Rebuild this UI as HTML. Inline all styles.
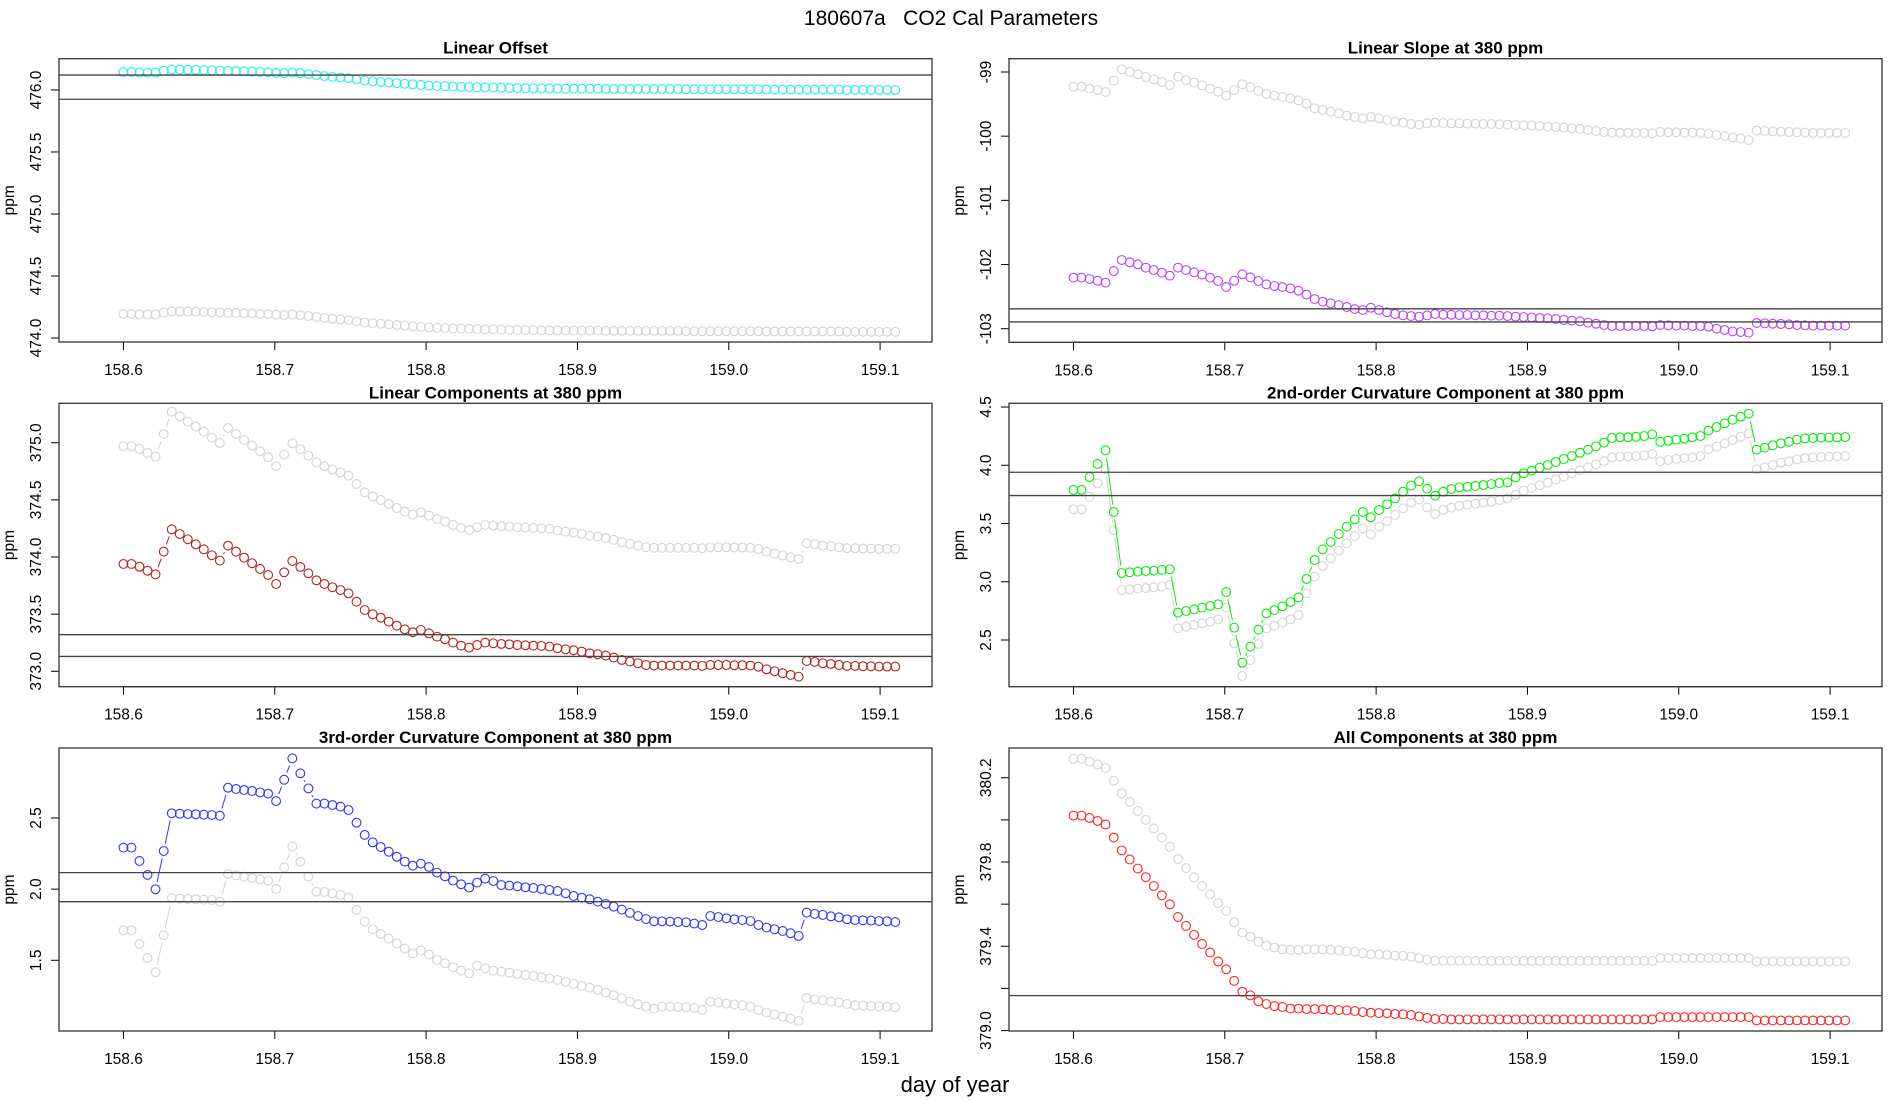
<!DOCTYPE html>
<html><head><meta charset="utf-8"><title>180607a CO2 Cal Parameters</title>
<style>
html,body{margin:0;padding:0;background:#fff;}
svg{display:block;font-family:"Liberation Sans",Arial,sans-serif;}
</style></head>
<body>
<svg id="chart" width="1900" height="1100" viewBox="0 0 1900 1100" xmlns="http://www.w3.org/2000/svg">
<rect x="0" y="0" width="1900" height="1100" fill="#fff"/>
<text x="951" y="25" font-size="21" text-anchor="middle" fill="#000" style="white-space:pre" xml:space="preserve">180607a   CO2 Cal Parameters</text>
<text x="955" y="1092" font-size="22" text-anchor="middle" fill="#000">day of year</text>
</svg>
<script>
const days=[158.6000,158.6053,158.6106,158.6159,158.6212,158.6266,158.6319,158.6372,158.6425,158.6478,158.6531,158.6584,158.6637,158.6691,158.6744,158.6797,158.6850,158.6903,158.6956,158.7009,158.7062,158.7116,158.7169,158.7222,158.7275,158.7328,158.7381,158.7434,158.7487,158.7540,158.7594,158.7647,158.7700,158.7753,158.7806,158.7859,158.7912,158.7965,158.8019,158.8072,158.8125,158.8178,158.8231,158.8284,158.8337,158.8390,158.8444,158.8497,158.8550,158.8603,158.8656,158.8709,158.8762,158.8815,158.8868,158.8922,158.8975,158.9028,158.9081,158.9134,158.9187,158.9240,158.9293,158.9347,158.9400,158.9453,158.9506,158.9559,158.9612,158.9665,158.9718,158.9772,158.9825,158.9878,158.9931,158.9984,159.0037,159.0090,159.0143,159.0196,159.0250,159.0303,159.0356,159.0409,159.0462,159.0515,159.0568,159.0621,159.0675,159.0728,159.0781,159.0834,159.0887,159.0940,159.0993,159.1046,159.1100];
const xTicks=[158.6,158.7,158.8,158.9,159.0,159.1];

const offsetMain=[476.145,476.145,476.14,476.14,476.14,476.155,476.165,476.165,476.163,476.162,476.16,476.158,476.156,476.154,476.152,476.15,476.148,476.145,476.142,476.138,476.135,476.14,476.135,476.128,476.12,476.112,476.105,476.1,476.095,476.085,476.075,476.07,476.065,476.06,476.055,476.05,476.045,476.04,476.035,476.032,476.03,476.028,476.026,476.024,476.022,476.02,476.02,476.018,476.016,476.015,476.014,476.013,476.012,476.012,476.011,476.01,476.01,476.01,476.01,476.01,476.008,476.008,476.008,476.008,476.008,476.008,476.008,476.008,476.008,476.008,476.005,476.005,476.005,476.005,476.005,476.005,476.005,476.005,476.005,476.005,476.003,476.003,476.003,476.003,476.003,476.003,476.003,476.003,476.003,476.003,476.0,476.0,476.0,476.0,476.0,476.0,476.0];
const offsetRef=[474.195,474.195,474.19,474.19,474.19,474.205,474.215,474.215,474.213,474.212,474.21,474.208,474.206,474.204,474.202,474.2,474.198,474.195,474.192,474.188,474.185,474.19,474.185,474.178,474.17,474.162,474.155,474.15,474.145,474.135,474.125,474.12,474.115,474.11,474.105,474.1,474.095,474.09,474.085,474.082,474.08,474.078,474.076,474.074,474.072,474.07,474.07,474.068,474.066,474.065,474.064,474.063,474.062,474.062,474.061,474.06,474.06,474.06,474.06,474.06,474.058,474.058,474.058,474.058,474.058,474.058,474.058,474.058,474.058,474.058,474.055,474.055,474.055,474.055,474.055,474.055,474.055,474.055,474.055,474.055,474.053,474.053,474.053,474.053,474.053,474.053,474.053,474.053,474.053,474.053,474.05,474.05,474.05,474.05,474.05,474.05,474.05];
const offsetLines=[476.12,475.925];
const offsetTicks=[474.0,474.5,475.0,475.5,476.0];

const slopeMain=[-102.205,-102.205,-102.226,-102.252,-102.283,-102.101,-101.930,-101.966,-101.997,-102.049,-102.086,-102.127,-102.174,-102.049,-102.086,-102.122,-102.158,-102.205,-102.257,-102.351,-102.252,-102.153,-102.2,-102.257,-102.309,-102.335,-102.351,-102.371,-102.408,-102.47,-102.538,-102.579,-102.605,-102.631,-102.662,-102.694,-102.709,-102.673,-102.709,-102.745,-102.771,-102.792,-102.803,-102.813,-102.792,-102.771,-102.782,-102.782,-102.787,-102.787,-102.792,-102.792,-102.797,-102.797,-102.803,-102.813,-102.818,-102.824,-102.834,-102.839,-102.849,-102.865,-102.875,-102.886,-102.906,-102.922,-102.943,-102.958,-102.958,-102.958,-102.958,-102.958,-102.963,-102.943,-102.948,-102.953,-102.953,-102.958,-102.958,-102.969,-103.0,-103.021,-103.042,-103.052,-103.062,-102.912,-102.917,-102.922,-102.927,-102.932,-102.943,-102.948,-102.953,-102.953,-102.953,-102.953,-102.953];
const slopeRef=[-99.229,-99.229,-99.26,-99.281,-99.312,-99.135,-98.958,-99.0,-99.036,-99.078,-99.114,-99.156,-99.203,-99.073,-99.125,-99.166,-99.208,-99.26,-99.306,-99.369,-99.281,-99.192,-99.234,-99.296,-99.343,-99.369,-99.39,-99.41,-99.442,-99.494,-99.566,-99.592,-99.618,-99.644,-99.681,-99.701,-99.722,-99.701,-99.722,-99.748,-99.774,-99.79,-99.81,-99.821,-99.8,-99.79,-99.795,-99.8,-99.8,-99.805,-99.805,-99.81,-99.81,-99.815,-99.821,-99.826,-99.831,-99.836,-99.842,-99.852,-99.857,-99.867,-99.878,-99.888,-99.904,-99.92,-99.935,-99.945,-99.95,-99.95,-99.95,-99.95,-99.955,-99.935,-99.94,-99.94,-99.945,-99.945,-99.95,-99.961,-99.982,-99.997,-100.018,-100.034,-100.06,-99.914,-99.92,-99.925,-99.93,-99.935,-99.94,-99.945,-99.95,-99.95,-99.95,-99.95,-99.95];
const slopeLines=[-102.69,-102.895];
const slopeTicks=[-103,-102,-101,-100,-99];

const linMain=[373.939,373.939,373.915,373.880,373.848,374.047,374.242,374.201,374.155,374.111,374.067,374.015,373.968,374.099,374.047,373.994,373.945,373.895,373.843,373.764,373.866,373.965,373.913,373.857,373.796,373.764,373.735,373.711,373.682,373.609,373.536,373.499,373.469,373.434,373.399,373.367,373.341,373.362,373.332,373.303,373.280,373.251,373.224,373.207,373.230,373.251,373.245,373.239,373.236,373.230,373.227,373.224,373.222,373.216,373.201,373.192,373.184,373.172,373.157,373.149,373.137,373.120,373.099,373.085,373.070,373.055,373.050,373.050,373.050,373.050,373.050,373.050,373.047,373.055,373.055,373.055,373.053,373.053,373.050,373.040,373.017,373.000,372.983,372.968,372.953,373.090,373.082,373.070,373.064,373.055,373.047,373.047,373.044,373.044,373.041,373.041,373.041];
const linRef=[374.969,374.969,374.945,374.910,374.878,375.077,375.272,375.231,375.185,375.141,375.097,375.045,374.998,375.129,375.077,375.024,374.975,374.925,374.873,374.794,374.896,374.995,374.943,374.887,374.826,374.794,374.765,374.741,374.712,374.639,374.566,374.529,374.499,374.464,374.429,374.397,374.371,374.392,374.362,374.333,374.310,374.281,374.254,374.237,374.260,374.281,374.275,374.269,374.266,374.260,374.257,374.254,374.252,374.246,374.231,374.222,374.214,374.202,374.187,374.179,374.167,374.150,374.129,374.115,374.100,374.085,374.080,374.080,374.080,374.080,374.080,374.080,374.077,374.085,374.085,374.085,374.083,374.083,374.080,374.070,374.047,374.030,374.013,373.998,373.983,374.120,374.112,374.100,374.094,374.085,374.077,374.077,374.074,374.074,374.071,374.071,374.071];
const linLines=[373.32,373.13];
const linTicks=[373.0,373.5,374.0,374.5,375.0];

const curv2Main=[3.788,3.788,3.899,4.011,4.128,3.599,3.075,3.081,3.087,3.093,3.095,3.101,3.107,2.735,2.749,2.763,2.778,2.792,2.806,2.912,2.606,2.305,2.443,2.589,2.729,2.757,2.789,2.826,2.866,3.024,3.187,3.278,3.341,3.410,3.473,3.536,3.599,3.553,3.616,3.665,3.716,3.773,3.825,3.862,3.799,3.739,3.773,3.796,3.810,3.816,3.822,3.830,3.839,3.848,3.853,3.896,3.931,3.954,3.979,4.002,4.028,4.054,4.079,4.108,4.134,4.162,4.194,4.234,4.240,4.240,4.245,4.251,4.265,4.202,4.211,4.220,4.228,4.240,4.251,4.297,4.328,4.360,4.391,4.417,4.443,4.134,4.151,4.171,4.188,4.202,4.220,4.231,4.234,4.237,4.237,4.240,4.242];
const curv2Ref=[3.622,3.622,3.730,3.845,3.965,3.444,2.929,2.935,2.941,2.946,2.952,2.958,2.972,2.600,2.614,2.629,2.643,2.657,2.677,2.778,2.471,2.191,2.328,2.466,2.600,2.623,2.649,2.677,2.715,2.901,3.044,3.135,3.201,3.267,3.330,3.393,3.459,3.407,3.473,3.521,3.573,3.630,3.679,3.707,3.639,3.582,3.616,3.636,3.653,3.662,3.670,3.679,3.687,3.702,3.716,3.745,3.782,3.805,3.828,3.850,3.879,3.902,3.931,3.959,3.982,4.008,4.036,4.068,4.074,4.074,4.079,4.085,4.097,4.034,4.045,4.054,4.062,4.068,4.079,4.137,4.160,4.188,4.217,4.245,4.274,3.965,3.982,4.002,4.022,4.034,4.051,4.062,4.068,4.071,4.074,4.077,4.079];
const curv2Lines=[3.94,3.74];
const curv2Ticks=[2.5,3.0,3.5,4.0,4.5];

const curv3Main=[2.292,2.292,2.198,2.100,1.999,2.268,2.533,2.530,2.528,2.526,2.523,2.521,2.516,2.713,2.704,2.697,2.690,2.680,2.671,2.619,2.769,2.919,2.814,2.708,2.601,2.601,2.591,2.580,2.556,2.467,2.381,2.329,2.296,2.263,2.228,2.193,2.165,2.179,2.156,2.116,2.090,2.060,2.034,2.011,2.046,2.074,2.057,2.029,2.025,2.020,2.013,2.008,2.001,1.994,1.987,1.971,1.952,1.940,1.929,1.912,1.896,1.877,1.856,1.833,1.811,1.790,1.774,1.774,1.772,1.769,1.767,1.758,1.748,1.811,1.804,1.795,1.788,1.783,1.776,1.748,1.730,1.718,1.706,1.690,1.671,1.835,1.826,1.819,1.809,1.802,1.788,1.783,1.781,1.779,1.776,1.774,1.769];
const curv3Ref=[1.711,1.711,1.615,1.516,1.416,1.676,1.938,1.933,1.931,1.929,1.926,1.924,1.912,2.107,2.097,2.088,2.078,2.069,2.060,2.001,2.153,2.299,2.193,2.088,1.982,1.980,1.971,1.959,1.940,1.854,1.772,1.718,1.685,1.652,1.619,1.582,1.549,1.568,1.540,1.502,1.479,1.451,1.427,1.409,1.463,1.444,1.427,1.420,1.413,1.404,1.397,1.390,1.381,1.371,1.362,1.348,1.334,1.320,1.308,1.292,1.273,1.254,1.233,1.210,1.191,1.174,1.160,1.174,1.174,1.172,1.170,1.165,1.151,1.210,1.203,1.196,1.189,1.184,1.174,1.151,1.132,1.118,1.104,1.090,1.074,1.235,1.226,1.219,1.210,1.203,1.193,1.184,1.181,1.179,1.177,1.174,1.170];
const curv3Lines=[2.116,1.912];
const curv3Ticks=[1.5,2.0,2.5];

const allMain=[380.020,380.020,380.009,379.995,379.978,379.916,379.855,379.812,379.769,379.728,379.686,379.642,379.599,379.539,379.497,379.454,379.411,379.370,379.328,379.291,379.236,379.184,379.167,379.139,379.126,379.116,379.112,379.104,379.104,379.102,379.102,379.101,379.099,379.097,379.096,379.093,379.088,379.085,379.083,379.082,379.079,379.077,379.074,379.067,379.060,379.055,379.055,379.053,379.053,379.053,379.053,379.053,379.053,379.053,379.053,379.053,379.053,379.053,379.053,379.053,379.053,379.053,379.053,379.053,379.053,379.053,379.053,379.053,379.053,379.053,379.053,379.053,379.053,379.064,379.064,379.064,379.064,379.064,379.064,379.064,379.064,379.064,379.064,379.064,379.064,379.048,379.048,379.048,379.048,379.048,379.048,379.048,379.048,379.048,379.048,379.048,379.048];
const allRef=[380.290,380.290,380.277,380.263,380.246,380.186,380.126,380.085,380.042,380.000,379.959,379.916,379.872,379.814,379.771,379.727,379.686,379.646,379.605,379.568,379.514,379.465,379.446,379.422,379.403,379.394,379.386,379.383,379.383,379.386,379.386,379.385,379.383,379.380,379.377,379.374,379.367,379.362,379.361,379.359,379.356,379.355,379.351,379.344,379.336,379.331,379.331,379.331,379.331,379.331,379.331,379.331,379.331,379.331,379.331,379.331,379.331,379.331,379.331,379.331,379.331,379.331,379.331,379.331,379.331,379.331,379.331,379.331,379.331,379.331,379.331,379.331,379.331,379.344,379.344,379.344,379.344,379.344,379.344,379.344,379.344,379.344,379.344,379.344,379.344,379.328,379.328,379.328,379.328,379.328,379.328,379.328,379.328,379.328,379.328,379.328,379.328];
const allLines=[379.166];
const allTicks=[379.0,379.2,379.4,379.6,379.8,380.0,380.2];
const allTickLabels=["379.0","","379.4","","379.8","","380.2"];

const NS="http://www.w3.org/2000/svg";
const svg=document.getElementById('chart');
function mk(tag,attrs,parent){const e=document.createElementNS(NS,tag);for(const k in attrs)e.setAttribute(k,attrs[k]);(parent||svg).appendChild(e);return e;}

const XMIN=158.5574,XMAX=159.1343;
function drawPanel(cfg){
  const g=mk('g',{});
  
  
  const L=cfg.left,R=cfg.left+873,T=cfg.top,B=cfg.bottom;
  const xs=v=>L+(v-XMIN)/(XMAX-XMIN)*(R-L);
  const ys=v=>B-(v-cfg.ymin)/(cfg.ymax-cfg.ymin)*(B-T);
  const title=mk('text',{x:(L+R)/2,y:T-5,'font-size':17,'font-weight':'bold','text-anchor':'middle'},g);
  title.textContent=cfg.title;
  
  
  const xa=mk('g',{},g);
  
  
  mk('line',{x1:xs(xTicks[0]),x2:xs(xTicks[xTicks.length-1]),y1:B,y2:B,stroke:'#000','stroke-width':1},xa);
  xTicks.forEach(t=>{
    mk('line',{x1:xs(t),x2:xs(t),y1:B,y2:B+8,stroke:'#000','stroke-width':1},xa);
    const tx=mk('text',{x:xs(t),y:B+33,'font-size':15.5,'text-anchor':'middle'},xa);
    tx.textContent=t.toFixed(1);
    
    
  });
  const ya=mk('g',{},g);
  
  
  mk('line',{x1:L,x2:L,y1:ys(cfg.ticks[0]),y2:ys(cfg.ticks[cfg.ticks.length-1]),stroke:'#000','stroke-width':1},ya);
  cfg.ticks.forEach((t,i)=>{
    mk('line',{x1:L-8,x2:L,y1:ys(t),y2:ys(t),stroke:'#000','stroke-width':1},ya);
    const lab=cfg.labels?cfg.labels[i]:(cfg.dec===0?String(t):t.toFixed(1));
    if(lab){
      const tx=mk('text',{x:L-18,y:ys(t),'font-size':15.5,'text-anchor':'middle',transform:`rotate(-90 ${L-18} ${ys(t)})`},ya);
      tx.textContent=lab;
      
      
    }
  });
  const yl=mk('text',{x:L-45,y:(T+B)/2,'font-size':15.5,'text-anchor':'middle',transform:`rotate(-90 ${L-45} ${(T+B)/2})`},g);
  yl.textContent='ppm';
  
  
  const box=mk('rect',{x:L,y:T,width:R-L,height:B-T,fill:'none',stroke:'#333','stroke-width':1.3},g);
  
  
  function series(vals,color,nm){
    const sg=mk('g',{},g);
    
    
    const pts=vals.map((v,i)=>[xs(days[i]),ys(v)]);
    const gap=7.5;
    for(let i=1;i<pts.length;i++){
      const [x1,y1]=pts[i-1],[x2,y2]=pts[i];
      const d=Math.hypot(x2-x1,y2-y1);
      if(d>2*gap+2){
        const ux=(x2-x1)/d,uy=(y2-y1)/d;
        mk('line',{x1:x1+ux*gap,y1:y1+uy*gap,x2:x2-ux*gap,y2:y2-uy*gap,stroke:color,'stroke-width':1},sg);
      }
    }
    pts.forEach(p=>{
      const c=mk('circle',{cx:p[0],cy:p[1],r:4.4,fill:'none',stroke:color,'stroke-width':1.1},sg);
      
      
    });
  }
  series(cfg.ref,'#d3d3d3','reference-series');
  series(cfg.main,cfg.color,'main-series');
  cfg.lines.forEach(v=>{
    const l=mk('line',{x1:L,x2:R,y1:ys(v),y2:ys(v),stroke:'#444','stroke-width':1.3},g);
    
    
  });
}
const LX=59,RX=1009;
drawPanel({name:'linear-offset-panel',title:'Linear Offset',left:LX,top:58.7,bottom:342,ymin:473.968,ymax:476.252,ticks:offsetTicks,main:offsetMain,ref:offsetRef,lines:offsetLines,color:'#22eeee'});
drawPanel({name:'linear-slope-panel',title:'Linear Slope at 380 ppm',left:RX,top:58.7,bottom:342.3,ymin:-103.212,ymax:-98.793,ticks:slopeTicks,dec:0,main:slopeMain,ref:slopeRef,lines:slopeLines,color:'#bf3eff'});
drawPanel({name:'linear-components-panel',title:'Linear Components at 380 ppm',left:LX,top:403.3,bottom:686.7,ymin:372.865,ymax:375.345,ticks:linTicks,main:linMain,ref:linRef,lines:linLines,color:'#b22222'});
drawPanel({name:'curvature-2nd-panel',title:'2nd-order Curvature Component at 380 ppm',left:RX,top:403.3,bottom:686.7,ymin:2.099,ymax:4.532,ticks:curv2Ticks,main:curv2Main,ref:curv2Ref,lines:curv2Lines,color:'#00ee00'});
drawPanel({name:'curvature-3rd-panel',title:'3rd-order Curvature Component at 380 ppm',left:LX,top:748,bottom:1031,ymin:1.003,ymax:2.992,ticks:curv3Ticks,main:curv3Main,ref:curv3Ref,lines:curv3Lines,color:'#3333ff'});
drawPanel({name:'all-components-panel',title:'All Components at 380 ppm',left:RX,top:748,bottom:1031,ymin:378.998,ymax:380.341,ticks:allTicks,labels:allTickLabels,main:allMain,ref:allRef,lines:allLines,color:'#ff2222'});
</script>
</body></html>
